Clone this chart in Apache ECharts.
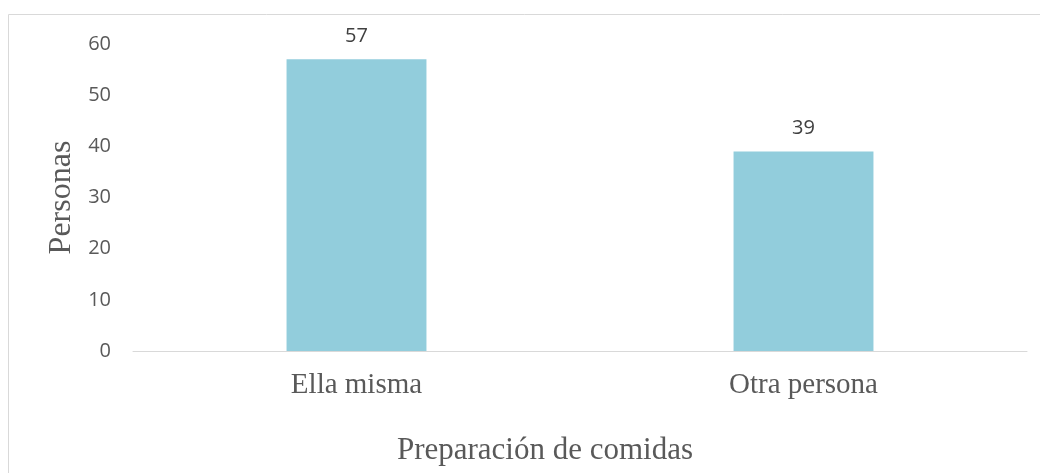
<!DOCTYPE html>
<html>
<head>
<meta charset="utf-8">
<script src="https://cdn.jsdelivr.net/npm/echarts@6/dist/echarts.min.js"></script>
<style>
  html, body { margin: 0; padding: 0; background: #fff; }
  #chart { width: 1040px; height: 473px; }
</style>
</head>
<body>
<div id="chart"></div>
<script>
const categories = ['Ella misma', 'Otra persona']
const values = [57, 39]
const yTicks = { min: 0, max: 60, interval: 10 }

const chart = echarts.init(document.getElementById('chart'))

const option = {
  animation: false,
  graphic: [
    {
      type: 'rect',
      shape: { x: 8.5, y: 14.5, width: 1200, height: 600 },
      style: { fill: 'none', stroke: '#d9d9d9', lineWidth: 1 },
      silent: true
    }
  ],
  grid: {
    left: 133,
    right: 13,
    top: 44,
    bottom: 122
  },
  xAxis: {
    type: 'category',
    data: categories,
    name: 'Preparación de comidas',
    nameLocation: 'middle',
    nameGap: 84,
    nameTextStyle: {
      fontFamily: 'Liberation Serif',
      fontSize: 31,
      color: '#595959',
      // the title sits a bit left of the plot centre
      padding: [0, 70, 0, 0]
    },
    axisLine: { lineStyle: { color: '#d9d9d9', width: 1 } },
    axisTick: { show: false },
    axisLabel: {
      fontFamily: 'Liberation Serif',
      fontSize: 29,
      color: '#595959',
      margin: 20
    }
  },
  yAxis: {
    type: 'value',
    min: yTicks.min,
    max: yTicks.max,
    interval: yTicks.interval,
    name: 'Personas',
    nameLocation: 'middle',
    nameGap: 54,
    nameTextStyle: {
      fontFamily: 'Liberation Serif',
      fontSize: 32,
      color: '#595959'
    },
    axisLine: { show: false },
    axisTick: { show: false },
    splitLine: { show: false },
    axisLabel: {
      fontFamily: 'Open Sans',
      fontSize: 20,
      color: '#595959',
      margin: 22
    }
  },
  series: [
    {
      type: 'bar',
      data: values,
      barWidth: '31.3%',
      itemStyle: { color: '#92CDDC' },
      label: {
        show: true,
        position: 'top',
        distance: 13,
        fontFamily: 'Open Sans',
        fontSize: 20,
        color: '#404040'
      }
    }
  ]
}

chart.setOption(option)
window.addEventListener('resize', () => chart.resize())
</script>
</body>
</html>
